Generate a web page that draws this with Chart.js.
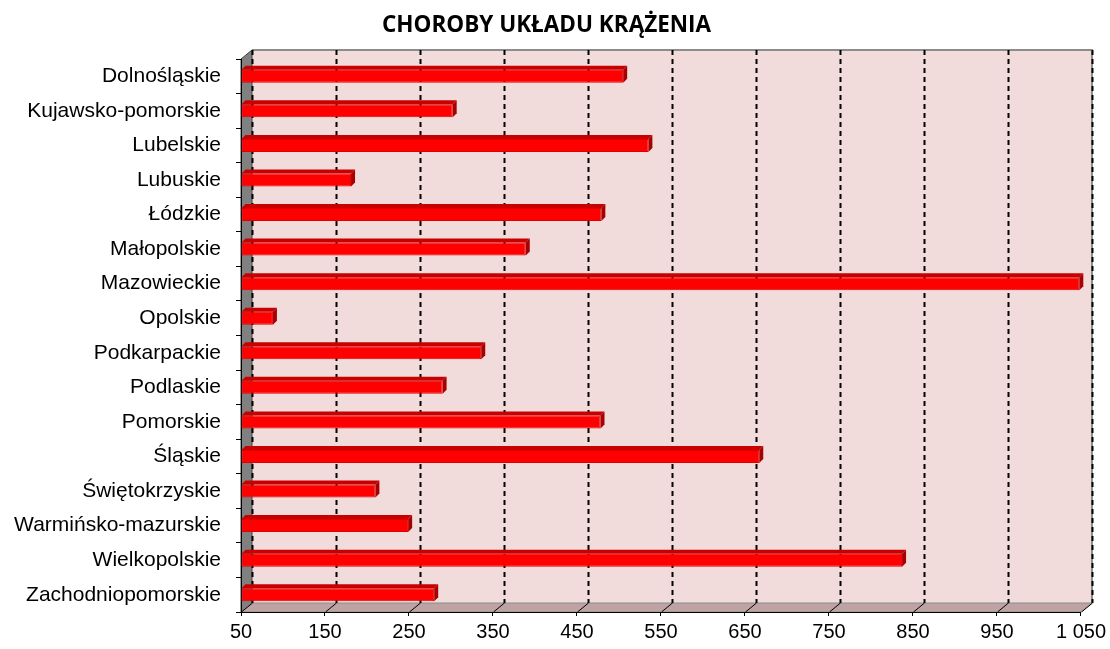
<!DOCTYPE html>
<html>
<head>
<meta charset="utf-8">
<script src="https://cdn.jsdelivr.net/npm/chart.js@4.4.0/dist/chart.umd.min.js"></script>
<style>
  html, body { margin: 0; padding: 0; background: #ffffff; }
  #wrap { width: 1110px; height: 649px; }
</style>
</head>
<body>
<div id="wrap"><canvas id="chart" width="1110" height="649"></canvas></div>
<script>
  // voivodeships, top to bottom
  const regions = [
    'Dolnośląskie', 'Kujawsko-pomorskie', 'Lubelskie', 'Lubuskie', 'Łódzkie',
    'Małopolskie', 'Mazowieckie', 'Opolskie', 'Podkarpackie', 'Podlaskie',
    'Pomorskie', 'Śląskie', 'Świętokrzyskie', 'Warmińsko-mazurskie',
    'Wielkopolskie', 'Zachodniopomorskie'
  ];

  // values
  const cases = [505, 302, 535, 181, 479, 389, 1048, 88, 336, 290, 478, 667, 210, 249, 837, 280];

  const xTicks = [50, 150, 250, 350, 450, 550, 650, 750, 850, 950, 1050];

  const chartTitle = 'CHOROBY UKŁADU KRĄŻENIA';

  // fake 3D depth of the walls
  const depthX = 11;
  const depthY = 9;
  const barDepth = 4;

  function formatNumber(v) {
    return String(v).replace(/\B(?=(\d{3})+(?!\d))/g, ' ');
  }

  // back wall, left wall, floor and dashed grid
  const wallsPlugin = {
    id: 'walls',
    beforeDraw(chart) {
      const ctx = chart.ctx;
      const a = chart.chartArea;
      const xs = chart.scales.x;
      ctx.save();

      // back wall
      ctx.fillStyle = '#f2dcdb';
      ctx.fillRect(a.left + depthX, a.top - depthY, a.right - a.left, a.bottom - a.top);
      ctx.strokeStyle = '#8c8c8c';
      ctx.lineWidth = 2;
      ctx.beginPath();
      ctx.moveTo(a.left + depthX, a.top - depthY);
      ctx.lineTo(a.right + depthX, a.top - depthY);
      ctx.lineTo(a.right + depthX, a.bottom - depthY);
      ctx.stroke();

      // left wall
      ctx.fillStyle = '#808080';
      ctx.beginPath();
      ctx.moveTo(a.left, a.top);
      ctx.lineTo(a.left + depthX, a.top - depthY);
      ctx.lineTo(a.left + depthX, a.bottom - depthY);
      ctx.lineTo(a.left, a.bottom);
      ctx.closePath();
      ctx.fill();
      ctx.strokeStyle = '#404040';
      ctx.lineWidth = 1;
      ctx.stroke();

      // floor
      ctx.fillStyle = '#bfa3a2';
      ctx.beginPath();
      ctx.moveTo(a.left, a.bottom);
      ctx.lineTo(a.left + depthX, a.bottom - depthY);
      ctx.lineTo(a.right + depthX, a.bottom - depthY);
      ctx.lineTo(a.right, a.bottom);
      ctx.closePath();
      ctx.fill();
      ctx.strokeStyle = '#8c8c8c';
      ctx.stroke();

      // dashed grid on back wall + floor diagonals
      ctx.strokeStyle = '#000000';
      xTicks.forEach((v) => {
        const px = Math.round(xs.getPixelForValue(v)) + 0.5;
        ctx.lineWidth = 2;
        ctx.setLineDash([5, 4]);
        ctx.beginPath();
        ctx.moveTo(px + depthX, a.top - depthY);
        ctx.lineTo(px + depthX, a.bottom - depthY);
        ctx.stroke();
        ctx.setLineDash([]);
        ctx.lineWidth = 1;
        ctx.beginPath();
        ctx.moveTo(px, a.bottom);
        ctx.lineTo(px + depthX, a.bottom - depthY);
        ctx.stroke();
      });
      ctx.restore();
    }
  };

  // top and side faces of the bars
  const bar3dPlugin = {
    id: 'bar3d',
    afterDatasetsDraw(chart) {
      const ctx = chart.ctx;
      const meta = chart.getDatasetMeta(0);
      ctx.save();
      meta.data.forEach((bar) => {
        const top = bar.y - bar.height / 2;
        const bottom = bar.y + bar.height / 2;
        // top face
        ctx.fillStyle = '#c80000';
        ctx.beginPath();
        ctx.moveTo(bar.base, top);
        ctx.lineTo(bar.base + barDepth, top - barDepth);
        ctx.lineTo(bar.x + barDepth, top - barDepth);
        ctx.lineTo(bar.x, top);
        ctx.closePath();
        ctx.fill();
        // right side
        ctx.fillStyle = '#a80000';
        ctx.beginPath();
        ctx.moveTo(bar.x, top);
        ctx.lineTo(bar.x + barDepth, top - barDepth);
        ctx.lineTo(bar.x + barDepth, bottom - barDepth);
        ctx.lineTo(bar.x, bottom);
        ctx.closePath();
        ctx.fill();
      });
      ctx.restore();
    }
  };

  const ctx = document.getElementById('chart').getContext('2d');
  new Chart(ctx, {
    type: 'bar',
    data: {
      labels: regions,
      datasets: [{
        data: cases,
        base: xTicks[0],
        backgroundColor: '#ff0000',
        borderColor: '#e00000',
        borderWidth: 1,
        borderSkipped: false,
        barPercentage: 0.75,
        categoryPercentage: 0.5
      }]
    },
    options: {
      indexAxis: 'y',
      responsive: false,
      animation: false,
      layout: {
        padding: { left: 12, right: 29, top: 0, bottom: 0 }
      },
      plugins: {
        legend: { display: false },
        tooltip: { enabled: false },
        title: {
          display: true,
          text: chartTitle,
          color: '#000000',
          font: { family: 'Open Sans, sans-serif', size: 22.5, weight: '700' },
          padding: { top: 12, bottom: 20 }
        }
      },
      scales: {
        x: {
          type: 'linear',
          min: 50,
          max: 1050,
          afterBuildTicks: (scale) => {
            scale.ticks = xTicks.map((v) => ({ value: v }));
          },
          afterFit: (scale) => { scale.height = 37; },
          border: { display: true, color: '#000000', width: 1 },
          grid: { drawOnChartArea: false, color: '#000000', tickLength: 4 },
          ticks: {
            color: '#000000',
            padding: 4,
            maxRotation: 0,
            font: { family: 'Liberation Sans, Arial, sans-serif', size: 20 },
            callback: (v) => formatNumber(v)
          }
        },
        y: {
          afterFit: (scale) => { scale.width = 229; },
          border: { display: true, color: '#000000', width: 1 },
          grid: { drawOnChartArea: false, offset: true, color: '#000000', tickLength: 5 },
          ticks: {
            color: '#000000',
            padding: 15,
            font: { family: 'Liberation Sans, Arial, sans-serif', size: 21 }
          }
        }
      }
    },
    plugins: [wallsPlugin, bar3dPlugin]
  });
</script>
</body>
</html>
